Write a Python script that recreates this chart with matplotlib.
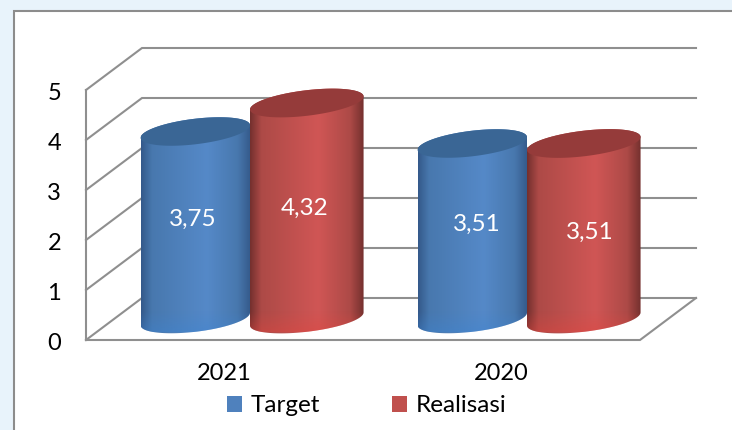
import numpy as np
import matplotlib
matplotlib.use("Agg")
import matplotlib.pyplot as plt
from matplotlib.colors import LinearSegmentedColormap, to_rgb
from matplotlib.patches import Patch, Polygon, Rectangle

years = ["2021", "2020"]
target = [3.75, 3.51]
realisasi = [4.32, 3.51]
labels_target = ["3,75", "3,51"]
labels_realisasi = ["4,32", "3,51"]
ticks = [0, 1, 2, 3, 4, 5]

plt.rcParams['font.family'] = ['Lato', 'DejaVu Sans']

# pixels per data unit, the axes fills the whole figure
PX_X = 277.0
PX_Y = 50.0
X0 = 86.0
Y0 = 340.0
W, H = 732, 430
DX = 56 / PX_X  # depth of the 3d box
DY = 42 / PX_Y
BAR_T = 0.395
BAR_R = 0.41
GREY = "#8f8f8f"

# the value labels were moved by hand in the original, offsets in px from bar centre
SHIFT_T = [(-3, 6), (5, 7)]
SHIFT_R = [(-2, 3), (6, -1)]

fig = plt.figure(figsize=(W / 100, H / 100), dpi=100, facecolor="#e8f3fb")
ax = fig.add_axes([0, 0, 1, 1])
ax.set_xlim(-X0 / PX_X, (W - X0) / PX_X)
ax.set_ylim((Y0 - H) / PX_Y, Y0 / PX_Y)
ax.axis("off")

# white panel, runs off the right and bottom of the picture
ax.add_patch(Rectangle(((14 - X0) / PX_X, (Y0 - H - 20) / PX_Y), 760 / PX_X, (H + 20 - 11) / PX_Y,
                       fc="white", ec="#8c8c8c", lw=1.5, zorder=0))

# walls
nx = len(years)
for t in ticks:
    ax.plot([0, DX, nx + DX], [t, t + DY, t + DY], color=GREY, lw=1.5, zorder=1, solid_joinstyle="miter")
ax.plot([0, 0], [ticks[0], ticks[-1]], color=GREY, lw=1.5, zorder=1)
ax.plot([0, nx, nx + DX], [0, 0, DY], color=GREY, lw=1.5, zorder=1, solid_joinstyle="miter")


def ellipse(cx, cy, half, t):
    # sheared ellipse so the left and right ends line up with the cylinder sides
    a = half * PX_X
    x = cx + a * np.cos(t) / PX_X
    y = cy + (0.115 * a * np.cos(t) + 12.8 * np.sin(t)) / PX_Y
    return np.column_stack([x, y])


def cylinder(cx, half, value, colors, text, shift):
    edge, shade, mid, cap, rim = colors
    base = DY / 2
    top = base + value
    low = np.linspace(np.pi, 2 * np.pi, 60)
    high = np.linspace(0, np.pi, 60)
    body = np.vstack([ellipse(cx, base, half, low), ellipse(cx, top, half, high)])
    poly = Polygon(body, closed=True, fc="none", ec="none", transform=ax.transData)
    ax.add_patch(poly)
    cmap = LinearSegmentedColormap.from_list("c", [(0, edge), (0.1, shade), (0.6, mid), (0.88, shade), (1, edge)])
    grad = np.linspace(0, 1, 256).reshape(1, -1)
    im = ax.imshow(grad, cmap=cmap, aspect="auto", zorder=2, interpolation="bilinear",
                   extent=[cx - half, cx + half, base - 0.5, top + 0.5])
    im.set_clip_path(poly)
    # brighter rim at the foot of the cylinder
    glow = np.ones((32, 1, 4))
    glow[:, :, :3] = to_rgb(rim)
    glow[:, 0, 3] = np.linspace(0, 0.4, 32)
    im2 = ax.imshow(glow, aspect="auto", zorder=2.5, interpolation="bilinear",
                    extent=[cx - half, cx + half, base - 13 / PX_Y, base + 8 / PX_Y])
    im2.set_clip_path(poly)
    lid = ellipse(cx, top, half, np.linspace(0, 2 * np.pi, 120))
    ax.add_patch(Polygon(lid, closed=True, fc=cap, ec="none", zorder=3))
    ax.text(cx + shift[0] / PX_X, base + value * 0.5 + shift[1] / PX_Y, text, color="white",
            fontsize=17.5, ha="center", va="center", zorder=4)


blues = ("#34598a", "#4878ae", "#5589c8", "#3a6695", "#3d84d2")
reds = ("#74302e", "#ad4a47", "#d05655", "#953b3a", "#e2453f")
for i in range(nx):
    c = i + 0.5 + DX / 2 - 2.5 / PX_X
    cylinder(c - BAR_T / 2, BAR_T / 2, target[i], blues, labels_target[i], SHIFT_T[i])
    cylinder(c + BAR_R / 2, BAR_R / 2, realisasi[i], reds, labels_realisasi[i], SHIFT_R[i])

ax.set_xlim(-X0 / PX_X, (W - X0) / PX_X)
ax.set_ylim((Y0 - H) / PX_Y, Y0 / PX_Y)

for t in ticks:
    ax.text(-25 / PX_X, t - 3 / PX_Y, str(t), fontsize=17, ha="right", va="center", color="black")
for i, y in enumerate(years):
    ax.text(i + 0.5, -34 / PX_Y, y, fontsize=17, ha="center", va="center", color="black")

handles = [Patch(fc="#4f81bd", label="Target"), Patch(fc="#c0504d", label="Realisasi")]
ax.legend(handles=handles, ncol=2, frameon=False, fontsize=17.5, loc="center", borderpad=0,
          bbox_to_anchor=(367 / W, 1 - 406 / H), handlelength=0.62, handleheight=0.62,
          handletextpad=0.35, columnspacing=2.97)

fig.savefig("out.png", dpi=100, facecolor=fig.get_facecolor())
